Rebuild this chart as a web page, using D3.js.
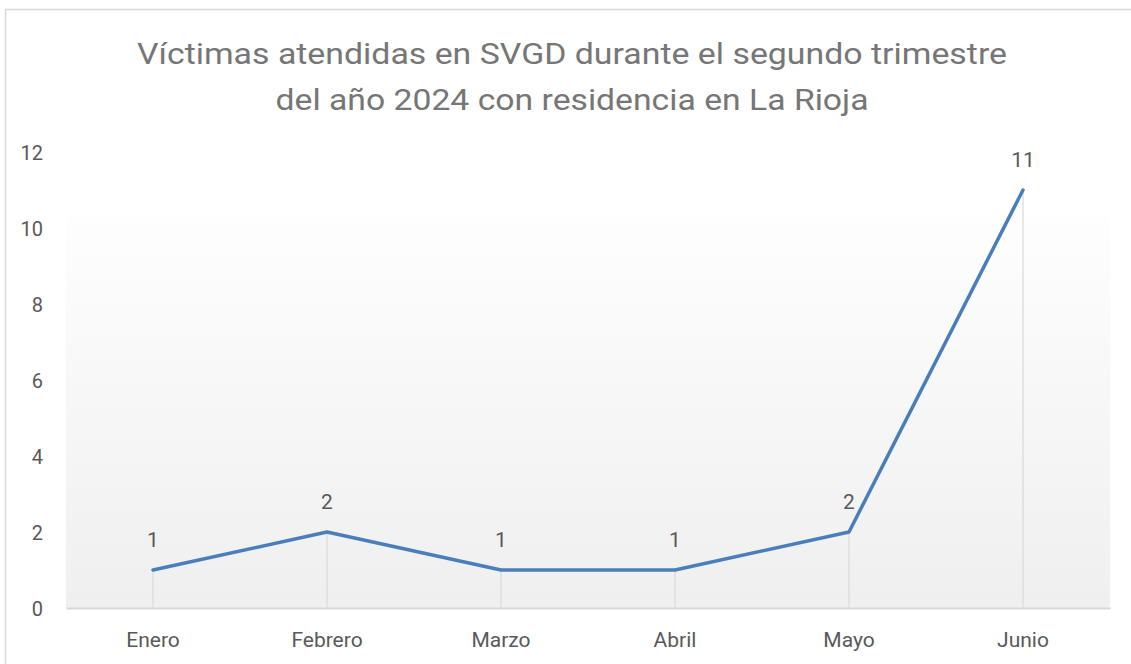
<!DOCTYPE html>
<html>
<head>
<meta charset="utf-8">
<script src="https://cdn.jsdelivr.net/npm/d3@7"></script>
<style>
  body { margin: 0; background: #fff; }
  svg { display: block; font-family: Roboto, "Noto Sans", sans-serif; }
</style>
</head>
<body>
<svg id="chart" width="1131" height="664"></svg>
<script>
"use strict";

const months = ["Enero", "Febrero", "Marzo", "Abril", "Mayo", "Junio"];
const victims = [1, 2, 1, 1, 2, 11];
const yTicks = [0, 2, 4, 6, 8, 10, 12];
const titleLines = [
    "Víctimas atendidas en SVGD durante el segundo trimestre",
    "del año 2024 con residencia en La Rioja"
];

const svg = d3.select("#chart");
const width = 1131, height = 664;
const margin = {left: 66, right: 21, top: 152, bottom: 56};

// outer chart border (only top and left show in the frame)
svg.append("rect")
    .attr("x", 5.5).attr("y", 9.5)
    .attr("width", width + 20).attr("height", height + 20)
    .attr("fill", "#fff")
    .attr("stroke", "#d9d9d9")
    .attr("stroke-width", 1.5);

const x = d3.scaleBand()
    .domain(months)
    .range([margin.left, width - margin.right]);

const y = d3.scaleLinear()
    .domain([0, 12])
    .range([height - margin.bottom, margin.top]);

// plot area gradient
const defs = svg.append("defs");
const grad = defs.append("linearGradient")
    .attr("id", "plotGrad")
    .attr("x1", 0).attr("y1", 0).attr("x2", 0).attr("y2", 1);
grad.append("stop").attr("offset", "0%").attr("stop-color", "#fefefe");
grad.append("stop").attr("offset", "100%").attr("stop-color", "#efefef");

const plotTop = y(10) - 14;
svg.append("rect")
    .attr("x", margin.left)
    .attr("y", plotTop)
    .attr("width", x.range()[1] - margin.left)
    .attr("height", y(0) - plotTop)
    .attr("fill", "url(#plotGrad)");

// title
svg.append("g")
    .selectAll("text")
    .data(titleLines)
    .enter()
    .append("text")
    .attr("x", 572)
    .attr("y", (d, i) => 64 + i * 46)
    .attr("text-anchor", "middle")
    .attr("fill", "#767676")
    .style("font-size", "30px")
    .attr("textLength", (d, i) => i === 0 ? 870 : 593)
    .attr("lengthAdjust", "spacingAndGlyphs")
    .text(d => d);

// drop lines
svg.append("g")
    .selectAll("line")
    .data(victims)
    .enter()
    .append("line")
    .attr("x1", (d, i) => x(months[i]) + x.bandwidth() / 2)
    .attr("x2", (d, i) => x(months[i]) + x.bandwidth() / 2)
    .attr("y1", d => y(d))
    .attr("y2", y(0))
    .attr("stroke", "#d9d9d9")
    .attr("stroke-width", 1.2);

// x axis
const xAxis = svg.append("g")
    .attr("transform", "translate(0," + y(0) + ")")
    .call(d3.axisBottom(x).tickSize(0).tickPadding(24));
xAxis.select("path")
    .attr("stroke", "#d9d9d9")
    .attr("stroke-width", 2);
xAxis.selectAll("text")
    .attr("fill", "#595959")
    .style("font-size", "21px")
    .style("font-family", "Roboto, sans-serif");

// y axis labels only
const yAxis = svg.append("g")
    .attr("transform", "translate(43,0)")
    .call(d3.axisLeft(y).tickValues(yTicks).tickSize(0).tickPadding(0));
yAxis.select("path").remove();
yAxis.selectAll("text")
    .attr("fill", "#595959")
    .attr("dy", "0.36em")
    .style("font-size", "20px")
    .style("font-family", "Roboto, sans-serif");

// line
const line = d3.line()
    .x((d, i) => x(months[i]) + x.bandwidth() / 2)
    .y(d => y(d));

svg.append("path")
    .datum(victims)
    .attr("d", line)
    .attr("fill", "none")
    .attr("stroke", "#4a7ebb")
    .attr("stroke-width", 3.5)
    .attr("stroke-linejoin", "round")
    .attr("stroke-linecap", "round");

// data labels
svg.append("g")
    .selectAll("text")
    .data(victims)
    .enter()
    .append("text")
    .attr("x", (d, i) => x(months[i]) + x.bandwidth() / 2)
    .attr("y", d => y(d) - 23)
    .attr("text-anchor", "middle")
    .attr("fill", "#595959")
    .style("font-size", "21px")
    .text(d => d);
</script>
</body>
</html>
